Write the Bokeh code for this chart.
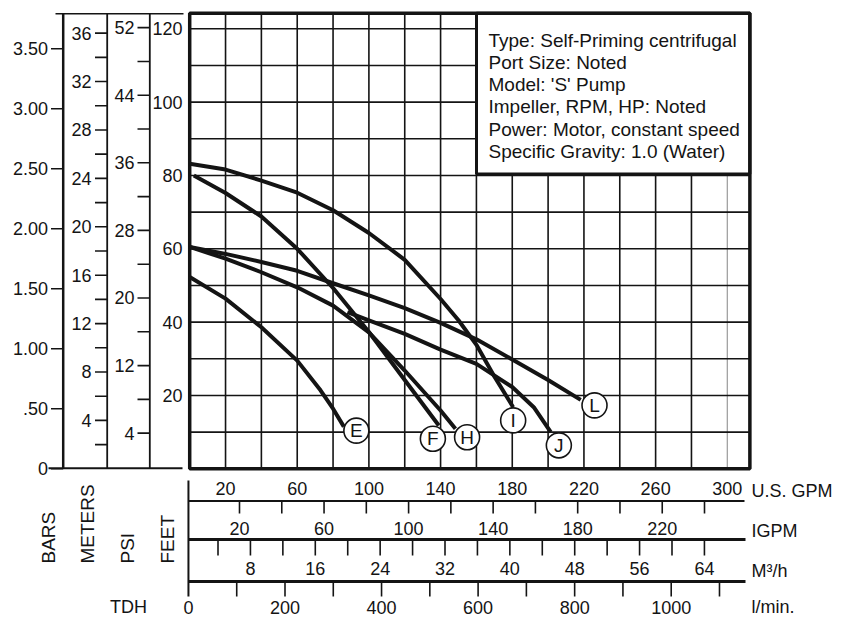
import numpy as np
from bokeh.plotting import figure
from bokeh.models import Range1d
from bokeh.core.properties import value
from bokeh.embed import file_html
from bokeh.resources import INLINE

# ---------------- data ----------------
# pump curves: flow (U.S. GPM) vs total dynamic head (feet)
E_gpm = [0, 20, 40, 60, 73, 80, 86]
E_ft = [52.3, 46.4, 38.6, 29.5, 21.4, 16.4, 11.5]
F_gpm = [2.3, 20, 40, 60, 80, 100, 120, 139]
F_ft = [80.0, 75.2, 68.8, 60.0, 49.3, 37.3, 24.2, 11.8]
H_gpm = [0, 20, 40, 60, 80, 100, 120, 140, 148.3]
H_ft = [60.5, 57.3, 53.6, 49.5, 44.5, 37.2, 26.8, 15.9, 10.9]
I_gpm = [0, 20, 40, 60, 80, 100, 120, 140, 150, 160, 170, 180.5]
I_ft = [83.2, 81.6, 78.6, 75.3, 70.5, 64.3, 57.0, 46.3, 40.5, 33.8, 25.2, 16.8]
J_gpm = [88, 100, 120, 140, 160, 180, 192, 201.5]
J_ft = [42.7, 40.5, 36.8, 32.5, 28.6, 22.3, 16.8, 10.0]
L_gpm = [0, 20, 40, 60, 80, 100, 120, 140, 160, 180, 200, 218.2]
L_ft = [60.5, 58.6, 56.4, 54.0, 50.6, 47.3, 43.8, 39.8, 35.3, 29.8, 24.2, 18.8]

curve_names = ["E", "F", "H", "I", "J", "L"]
label_gpm = [93.0, 135.7, 154.8, 180.5, 206.0, 225.9]
label_ft = [10.4, 8.2, 8.6, 13.2, 6.4, 17.3]

# axes / ticks
GPM_MAX, FT_MAX = 312.6, 124.2
grid_gpm = list(range(20, 301, 20))
grid_ft = list(range(10, 121, 10))
feet_labels = [20, 40, 60, 80, 100, 120]
bars_ticks = [0, 0.5, 1.0, 1.5, 2.0, 2.5, 3.0, 3.5]
bars_labels = ["0", ".50", "1.00", "1.50", "2.00", "2.50", "3.00", "3.50"]
meters_ticks = list(range(2, 37, 2))
meters_labels = list(range(4, 37, 4))
psi_ticks = list(range(4, 53, 4))
psi_labels = [4, 12, 20, 28, 36, 44, 52]
usgpm_labels = [20, 60, 100, 140, 180, 220, 260, 300]
igpm_ticks = list(range(20, 241, 20))
igpm_labels = [20, 60, 100, 140, 180, 220]
m3h_ticks = list(range(4, 65, 4))
m3h_labels = [8, 16, 24, 32, 40, 48, 56, 64]
lpm_ticks = list(range(100, 1101, 100))
lpm_labels = [0, 200, 400, 600, 800, 1000]

legend_lines = [
    "Type: Self-Priming centrifugal",
    "Port Size: Noted",
    "Model: 'S' Pump",
    "Impeller, RPM, HP: Noted",
    "Power: Motor, constant speed",
    "Specific Gravity: 1.0 (Water)",
]

# unit relations as printed on this chart
FT_PER_BAR = 32.73
FT_PER_M = 3.30
FT_PER_PSI, PSI_FT0 = 2.304, 0.5
IGPM_K, IGPM_0 = 1.1795, 4.2
M3H_K, M3H_0 = 4.524, -2.3
LPM_K, LPM_0 = 0.2694, -0.7

# ---------------- layout ----------------
W, H = 845, 616
X0, SX = 189.2, 1.792     # pixel x of 0 GPM, px per GPM
Y0, SY = 468.3, 3.667     # pixel y of 0 ft, px per ft


def X(px):
    return (px - X0) / SX


def Y(py):
    return (Y0 - py) / SY


INK = "#141414"
FONT = "Liberation Sans"

xs, xe = X(0), X(W)
ys, ye = Y(H), Y(0)

p = figure(width=W, height=H, x_range=Range1d(xs, xe), y_range=Range1d(ys, ye),
           output_backend="svg", toolbar_location=None, tools="",
           x_axis_location=None, y_axis_location=None, min_border=0,
           outline_line_color=None, background_fill_color="white",
           border_fill_color="white")
p.xgrid.visible = False
p.ygrid.visible = False

p.extra_x_ranges = {
    "igpm": Range1d((xs - IGPM_0) / IGPM_K, (xe - IGPM_0) / IGPM_K),
    "m3h": Range1d((xs - M3H_0) / M3H_K, (xe - M3H_0) / M3H_K),
    "lpm": Range1d((xs - LPM_0) / LPM_K, (xe - LPM_0) / LPM_K),
}
p.extra_y_ranges = {
    "bars": Range1d(ys / FT_PER_BAR, ye / FT_PER_BAR),
    "meters": Range1d(ys / FT_PER_M, ye / FT_PER_M),
    "psi": Range1d((ys - PSI_FT0) / FT_PER_PSI, (ye - PSI_FT0) / FT_PER_PSI),
}


def txt(x, y, t, size="18px", align="center", baseline="middle", angle=0.0,
        font=FONT, **kw):
    p.text(x=x, y=y, text=[str(s) for s in t], text_font=value(font),
           text_font_size=size, text_align=align, text_baseline=baseline,
           angle=angle, text_color=INK, **kw)


# ---------------- main plot ----------------
p.segment(x0=grid_gpm[:-1], x1=grid_gpm[:-1], y0=0, y1=FT_MAX,
          line_color=INK, line_width=1.6)
p.segment(x0=grid_gpm[-1:], x1=grid_gpm[-1:], y0=0, y1=FT_MAX,
          line_color="#9a9a9a", line_width=1.2)
p.segment(x0=0, x1=GPM_MAX, y0=grid_ft, y1=grid_ft,
          line_color=INK, line_width=1.6)

# info box
p.quad(left=[X(476)], right=[GPM_MAX], bottom=[Y(173.5)], top=[FT_MAX],
       fill_color="white", line_color=INK, line_width=3)
n = len(legend_lines)
txt([X(488)] * n, [Y(39.5 + 22.3 * i) for i in range(n)], legend_lines,
    size="19px", align="left", baseline="alphabetic")

# frame
p.quad(left=[0], right=[GPM_MAX], bottom=[0], top=[FT_MAX],
       fill_color=None, line_color=INK, line_width=3.5)

# curves
for gx, fy in [(E_gpm, E_ft), (F_gpm, F_ft), (H_gpm, H_ft),
               (I_gpm, I_ft), (J_gpm, J_ft), (L_gpm, L_ft)]:
    p.line(gx, fy, line_color=INK, line_width=4, line_join="round")

p.scatter(x=label_gpm, y=label_ft, marker="circle", size=25,
          fill_color="white", line_color=INK, line_width=1.6)
txt(label_gpm, label_ft, curve_names, size="19px")

# feet labels
txt([X(182)] * len(feet_labels), feet_labels, feet_labels, align="right")

# ---------------- left scales ----------------
p.segment(x0=[X(55)], x1=[X(183)], y0=[Y(13.3)], y1=[Y(13.3)],
          line_color=INK, line_width=1.5)
p.segment(x0=[X(48)], x1=[X(182)], y0=[Y(467.8)], y1=[Y(467.8)],
          line_color=INK, line_width=2)

# BARS
p.segment(x0=[X(62.7)], x1=[X(62.7)], y0=[Y(13.3)], y1=[Y(467.8)],
          line_color=INK, line_width=2.5)
p.segment(x0=X(50.5), x1=X(62.7), y0=bars_ticks, y1=bars_ticks,
          line_color=INK, line_width=1.6, y_range_name="bars")
txt([X(47.5)] * len(bars_ticks), bars_ticks, bars_labels, align="right",
    y_range_name="bars")

# METERS
p.segment(x0=[X(106.7)], x1=[X(106.7)], y0=[Y(13.3)], y1=[Y(467.8)],
          line_color=INK, line_width=1.8)
p.segment(x0=X(94.5), x1=X(106.7), y0=meters_ticks, y1=meters_ticks,
          line_color=INK, line_width=1.6, y_range_name="meters")
txt([X(91)] * len(meters_labels), meters_labels, meters_labels, align="right",
    y_range_name="meters")

# PSI
p.segment(x0=[X(149.3)], x1=[X(149.3)], y0=[Y(13.3)], y1=[Y(467.8)],
          line_color=INK, line_width=1.8)
p.segment(x0=X(137), x1=X(149.3), y0=psi_ticks, y1=psi_ticks,
          line_color=INK, line_width=1.6, y_range_name="psi")
txt([X(134)] * len(psi_labels), psi_labels, psi_labels, align="right",
    y_range_name="psi")

# rotated unit names
for cx, name in [(47.5, "BARS"), (87, "METERS"), (127, "PSI"), (167, "FEET")]:
    txt([X(cx)], [Y(563)], [name], size="19px", align="left",
        angle=np.pi / 2)
txt([X(128)], [Y(606.5)], ["TDH"])

# ---------------- bottom scales ----------------
p.segment(x0=[0], x1=[0], y0=[Y(480)], y1=[Y(596)], line_color=INK,
          line_width=2, x_range_name="lpm")
p.segment(x0=[X(188)], x1=[X(744)], y0=[Y(500.5)], y1=[Y(500.5)],
          line_color=INK, line_width=1.8)
p.segment(x0=[X(188)], x1=[X(745)], y0=[Y(539)], y1=[Y(539)],
          line_color=INK, line_width=3)
p.segment(x0=[X(188)], x1=[X(745)], y0=[Y(581)], y1=[Y(581)],
          line_color=INK, line_width=3)

txt(usgpm_labels, [Y(488)] * len(usgpm_labels), usgpm_labels)

p.segment(x0=igpm_ticks, x1=igpm_ticks, y0=Y(501), y1=Y(513),
          line_color=INK, line_width=1.6, x_range_name="igpm")
txt(igpm_labels, [Y(527.5)] * len(igpm_labels), igpm_labels,
    x_range_name="igpm")

p.segment(x0=m3h_ticks, x1=m3h_ticks, y0=Y(540), y1=Y(555),
          line_color=INK, line_width=1.6, x_range_name="m3h")
txt(m3h_labels, [Y(567.5)] * len(m3h_labels), m3h_labels,
    x_range_name="m3h")

p.segment(x0=lpm_ticks, x1=lpm_ticks, y0=Y(582), y1=Y(596),
          line_color=INK, line_width=1.6, x_range_name="lpm")
txt(lpm_labels, [Y(606.5)] * len(lpm_labels), lpm_labels,
    x_range_name="lpm")

unit_names = ["U.S. GPM", "IGPM", "M³/h", "l/min."]
txt([X(751)] * 4, [Y(490), Y(530), Y(570), Y(606.5)], unit_names,
    align="left")

open("out.html", "w").write(file_html(p, INLINE))
